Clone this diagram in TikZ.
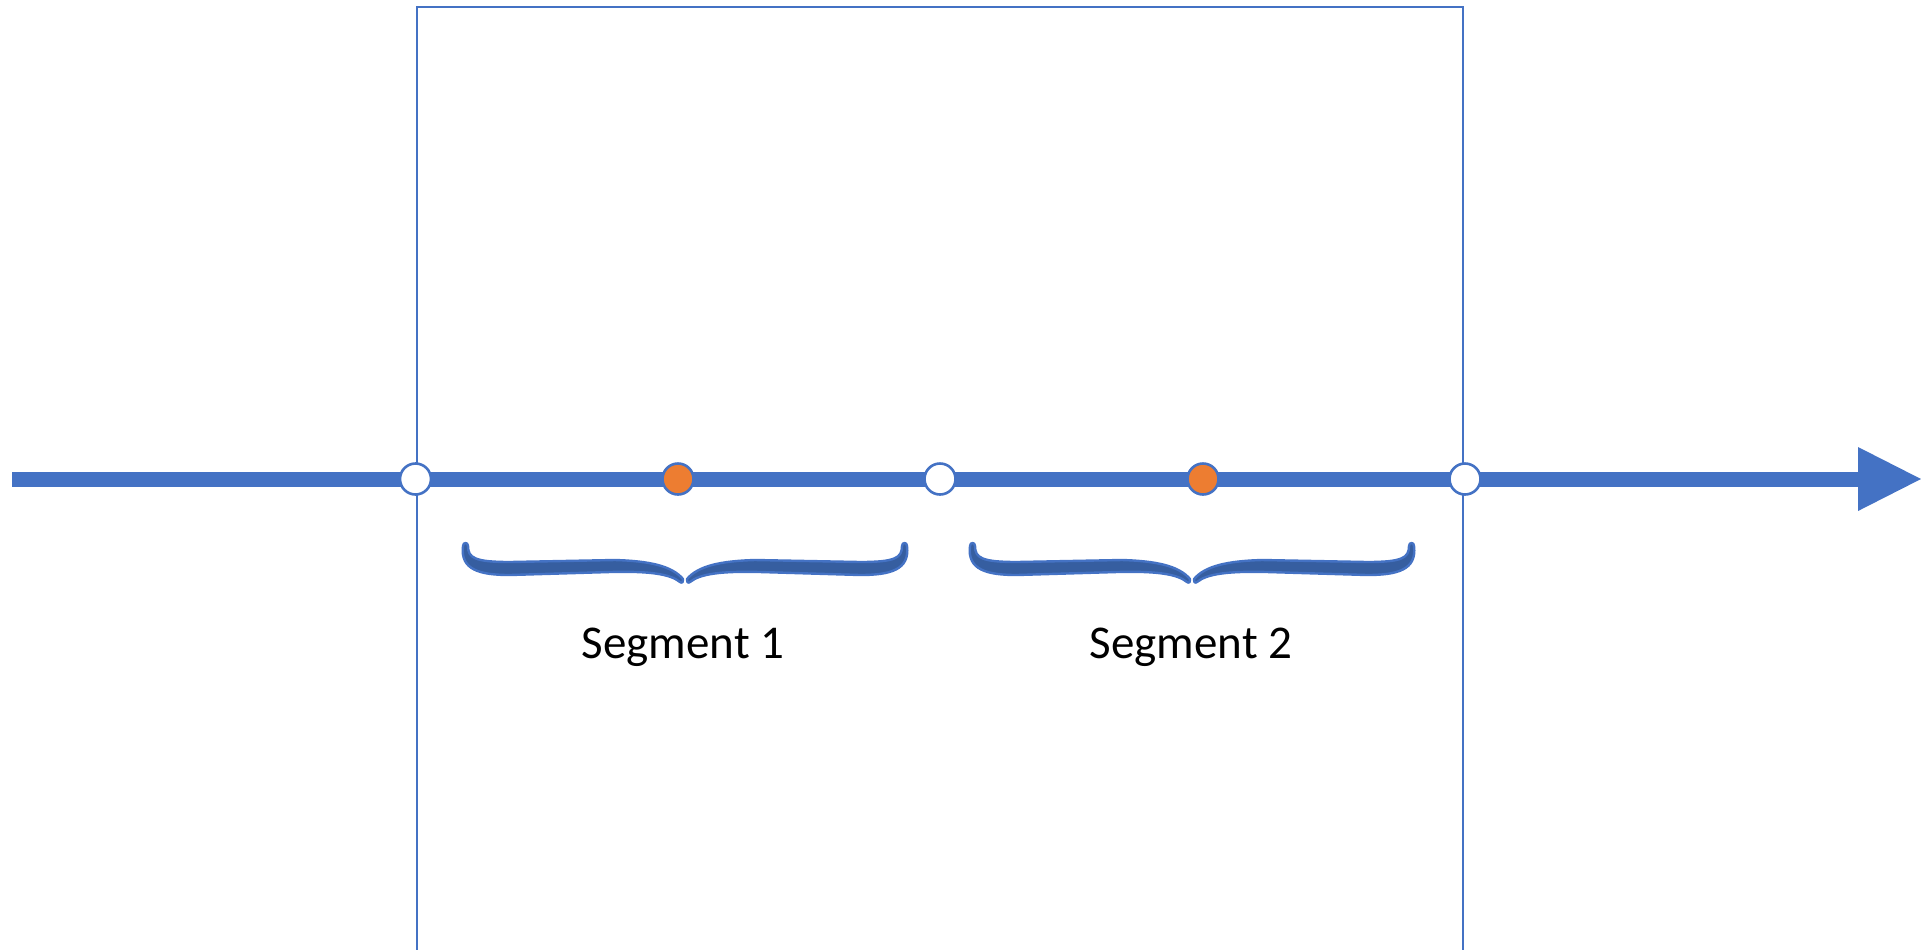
\documentclass[tikz,border=0pt]{standalone}
\usepackage{fontspec}
\setmainfont{Carlito}
\definecolor{axisblue}{RGB}{68,114,196}
\definecolor{bracefill}{RGB}{54,94,160}
\definecolor{dotorange}{RGB}{237,125,49}
\begin{document}
\begin{tikzpicture}[x=0.5pt,y=-0.5pt,
  frame/.style={draw=axisblue,line width=1.2pt},
  axisline/.style={draw=axisblue,line width=7.5pt},
  axistip/.style={fill=axisblue},
  opendot/.style={circle,draw=axisblue,line width=1.3pt,fill=white,minimum size=15.5pt,inner sep=0pt},
  fulldot/.style={circle,draw=axisblue,line width=1.3pt,fill=dotorange,minimum size=15.5pt,inner sep=0pt},
  bracestyle/.style={fill=bracefill,draw=axisblue,line width=1.2pt,line join=round},
  seglabel/.style={font=\fontsize{23.5pt}{28pt}\selectfont,inner sep=0pt,anchor=base}]
\useasboundingbox (0,0) rectangle (1921,949);

% window frame, open at the bottom
\draw[frame] (417,960) -- (417,7) -- (1463,7) -- (1463,960);

% time axis with its arrowhead
\coordinate (start) at (12,479);
\coordinate (base) at (1858,479);
\draw[axisline] (start) -- (base);
\fill[axistip] (1858,447) -- (1921,479) -- (1858,511) -- cycle;

% segment boundaries and midpoints
\node[opendot] (b0) at (415.5,479) {};
\node[fulldot] (m1) at (678,479) {};
\node[opendot] (b1) at (940,479) {};
\node[fulldot] (m2) at (1203,479) {};
\node[opendot] (b2) at (1465,479) {};

% curly braces below each segment, built from two mirrored halves
\newcommand{\halfbrace}[2]{%
  \begin{scope}[shift={(#1,0)},xscale=#2]
    \path[bracestyle] (-222,546)
      .. controls (-225,570) and (-205,575) .. (-175,575)
      -- (-75,572)
      .. controls (-35,571) and (-15,574) .. (-5,582)
      .. controls (-3,584) and (-1,581) .. (-2,579)
      .. controls (-13,566) and (-35,561) .. (-70,560)
      -- (-175,562)
      .. controls (-210,562) and (-217,558) .. (-217,546)
      .. controls (-217,542) and (-222,542) .. (-222,546) -- cycle;
  \end{scope}}
\halfbrace{685}{1}
\halfbrace{685}{-1}
\halfbrace{1192}{1}
\halfbrace{1192}{-1}

% segment labels
\node[seglabel] (s1) at (683,658) {Segment 1};
\node[seglabel] (s2) at (1191,658) {Segment 2};
\end{tikzpicture}
\end{document}
